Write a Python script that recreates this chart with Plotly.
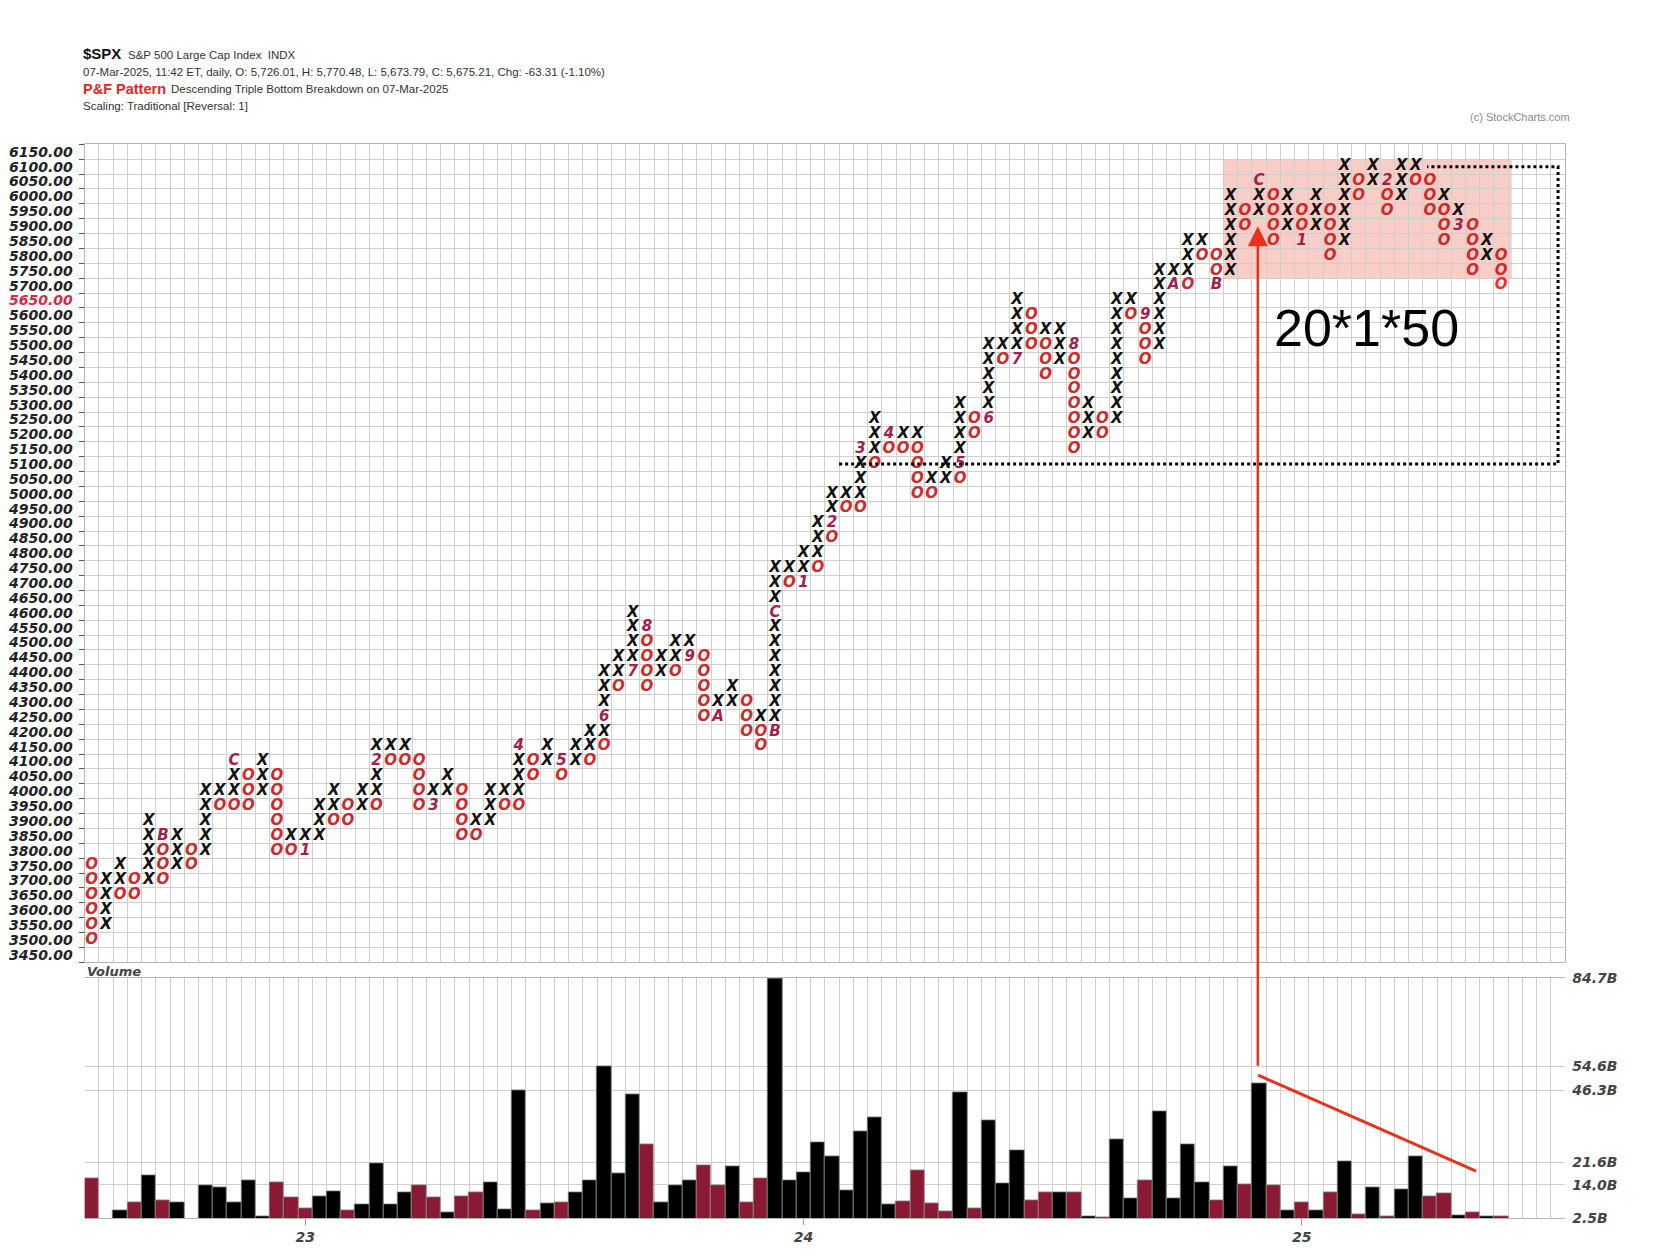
import plotly.graph_objects as go

# page size of the reference
W, H = 1680, 1258

# point & figure columns: bottom price and boxes from the bottom up
# (X = rising box, O = falling box, 1-9/A/B/C = first box of a month)
box_size = 50
col_bottom = [3500, 3550, 3650, 3650, 3700, 3700, 3750, 3750, 3800, 3950,
              3950, 3950, 4000, 3800, 3800, 3800, 3850, 3900, 3900, 3950,
              3950, 4100, 4100, 3950, 3950, 4000, 3850, 3850, 3900, 3950,
              3950, 4050, 4100, 4050, 4100, 4100, 4150, 4350, 4400, 4350,
              4400, 4400, 4450, 4250, 4250, 4300, 4200, 4150, 4200, 4700,
              4700, 4750, 4850, 4950, 4950, 5100, 5150, 5150, 5000, 5000,
              5050, 5050, 5200, 5250, 5450, 5450, 5500, 5400, 5450, 5150,
              5200, 5200, 5250, 5600, 5450, 5500, 5700, 5700, 5800, 5700,
              5750, 5900, 5950, 5850, 5900, 5850, 5900, 5800, 5850, 6000,
              6050, 5950, 6000, 6050, 5950, 5850, 5900, 5750, 5800, 5700]
col_boxes = ["OOOOOO", "XXXX", "OXX", "OO", "XXXXX", "OOOB", "XXX", "OO", "XXXXX", "OX",
             "OXXC", "OOO", "XXX", "OOOOOO", "OX", "1X", "XXX", "OXX", "OO", "XX",
             "OXX2X", "OX", "OX", "OOOO", "3X", "XX", "OOOO", "OX", "XXX", "OX",
             "OXXX4", "OO", "XX", "O5", "XX", "OXX", "OX6XXX", "OXX", "7XXXX", "OOOO8",
             "XX", "OXX", "9X", "OOOOO", "AX", "XX", "OOO", "OOX", "BXXXXXXXCXXX", "OX",
             "1XX", "OXXX", "O2XX", "OX", "OXXX3", "OXXX", "O4", "OX", "OOOOX", "OX",
             "XX", "O5XXXX", "OO", "6XXXXX", "OX", "7XXXX", "OOO", "OOOX", "XXX", "OOOOOOO8",
             "XXX", "OO", "XXXXXXXXX", "OX", "OOO9", "XXXXXX", "AX", "OXXX", "OX", "BOO",
             "XXXXXX", "OO", "XXC", "OOOO", "XXX", "1OO", "XXX", "OOOO", "XXXXXX", "OO",
             "XX", "OO2", "XXX", "OX", "OOO", "OOOX", "3X", "OOOO", "XX", "OOO"]

# volume per column (billions) and bar colour (k = black, r = red)
volume = [16.1, 0.0, 5.2, 8.1, 17.2, 8.5, 8.1, 0.0, 13.9, 13.2,
          8.1, 15.6, 3.3, 14.9, 9.6, 5.8, 9.9, 11.7, 5.2, 7.2,
          21.5, 7.2, 11.3, 13.9, 9.6, 4.4, 10.2, 11.4, 14.9, 5.5,
          46.2, 5.2, 7.6, 8.1, 11.4, 15.6, 54.5, 17.9, 45.1, 27.8,
          8.1, 13.9, 15.6, 20.8, 13.9, 20.4, 8.1, 16.1, 84.7, 15.4,
          18.2, 28.4, 23.6, 12.1, 32.3, 37.1, 7.2, 8.4, 18.9, 7.6,
          4.8, 45.8, 6.1, 36.0, 14.6, 25.7, 8.8, 11.4, 11.4, 11.4,
          3.3, 3.0, 29.4, 9.4, 15.6, 39.2, 9.4, 27.7, 15.0, 8.8,
          20.4, 14.2, 48.7, 13.8, 5.2, 8.1, 5.2, 11.4, 21.9, 4.0,
          13.1, 3.3, 12.3, 23.6, 10.2, 10.9, 3.6, 4.4, 3.3, 3.3]
vol_colors = ("rkkrkrkkkk" "kkkrrrkkrk" "kkkrrkrrkk" "krkrkkkkkr" "kkkrrkrrkk"
              "kkkkkkkrrr" "rkrkkkrrkr" "krkkrkkkkr" "krkrkrkrkr" "krkkrrkrkr")

# axis labels
price_rows = list(range(3450, 6151, 50))
last_price = "5675.21"
year_cols = [16, 51, 86]
year_labels = ["23", "24", "25"]
vol_ticks = [2.5, 14.0, 21.6, 46.3, 54.6, 84.7]

# colours
x_color = "#111111"
o_color = "#cc2b2b"
month_color = "#a3204c"
vol_dark = "#000000"
vol_red = "#8a1a34"
grid_color = "#cfcfcf"
note_red = "#e8321e"


def px_x(p):
    return p / W


def px_y(p):
    return 1 - p / H


# split the boxes into X, O and month-code marks
xs, ys = [], []
os_x, os_y = [], []
mx, my, mt = [], [], []
for i, (bottom, boxes) in enumerate(zip(col_bottom, col_boxes), start=1):
    for j, ch in enumerate(boxes):
        price = bottom + j * box_size
        if ch == "X":
            xs.append(i)
            ys.append(price)
        elif ch == "O":
            if i == len(col_bottom) and j == 0:
                continue  # current box gets its own colour below
            os_x.append(i)
            os_y.append(price)
        else:
            mx.append(i)
            my.append(price)
            mt.append(ch)
# current box = lowest O of the last column
cur_x = [len(col_bottom)]
cur_y = [col_bottom[-1]]

box_font = dict(family="DejaVu Sans", size=15, weight="bold", style="italic")

fig = go.Figure()
fig.add_trace(go.Scatter(x=xs, y=ys, mode="text", text=["X"] * len(xs),
                         textfont=dict(box_font, color=x_color), hoverinfo="skip"))
fig.add_trace(go.Scatter(x=os_x, y=os_y, mode="text", text=["O"] * len(os_x),
                         textfont=dict(box_font, color=o_color), hoverinfo="skip"))
fig.add_trace(go.Scatter(x=cur_x, y=cur_y, mode="text", text=["O"],
                         textfont=dict(box_font, color="#ff2a2a"), hoverinfo="skip"))
fig.add_trace(go.Scatter(x=mx, y=my, mode="text", text=mt,
                         textfont=dict(box_font, color=month_color), hoverinfo="skip"))

# volume bars
cols = list(range(1, len(volume) + 1))
fig.add_trace(go.Bar(x=cols, y=volume, width=1, xaxis="x2", yaxis="y3",
                     marker=dict(color=[vol_dark if c == "k" else vol_red for c in vol_colors],
                                 line=dict(color="#8a8a8a", width=0.8)),
                     hoverinfo="skip"))

n_cols_axis = 104
x_range = [0.5, n_cols_axis + 0.5]
x_bounds = [k + 0.5 for k in range(0, n_cols_axis + 1)]
y_bounds = [p - 25 for p in price_rows] + [price_rows[-1] + 25]

x_dom = [px_x(68), px_x(1556.5)]
pf_dom = [px_y(958.5), px_y(130)]
vol_dom = [px_y(1217.8), px_y(974.7)]

left_text = []
right_text = []
for p in price_rows:
    if p == 5650:
        left_text.append('<span style="color:#d4284c">%.2f</span>' % p)
        right_text.append('<span style="color:#d4284c">&lt;&lt;%s</span>' % last_price)
    else:
        left_text.append("%.2f" % p)
        right_text.append("%.2f" % p)

tick_font = dict(family="DejaVu Sans", size=14, weight="bold", style="italic", color="#222222")
vol_font = dict(family="DejaVu Sans", size=14, weight="bold", style="italic", color="#444444")
head_font = "Liberation Sans Narrow, Liberation Sans, Arial"

fig.update_layout(
    width=W, height=H, autosize=False,
    margin=dict(l=0, r=0, t=0, b=0),
    paper_bgcolor="white", plot_bgcolor="white",
    showlegend=False,
    bargap=0,
    xaxis=dict(domain=x_dom, range=x_range, anchor="y", tickmode="array", tickvals=x_bounds,
               showticklabels=False, ticks="", showgrid=True, gridcolor=grid_color, gridwidth=1,
               zeroline=False, showline=True, linecolor="#b5b5b5", mirror=True),
    yaxis=dict(domain=pf_dom, range=[3425, 6175], anchor="x", tickmode="array",
               tickvals=price_rows, ticktext=left_text, tickfont=tick_font, ticks="",
               showgrid=False, zeroline=False, showline=True, linecolor="#b5b5b5", mirror=True,
               ticklabelstandoff=8,
               minor=dict(tickmode="array", tickvals=y_bounds, showgrid=True, gridcolor=grid_color,
                          gridwidth=1, ticks="outside", ticklen=5, tickcolor="#555555")),
    yaxis2=dict(overlaying="y", side="right", anchor="x", range=[3425, 6175], tickmode="array",
                tickvals=price_rows, ticktext=right_text, tickfont=tick_font, ticks="",
                showgrid=False, zeroline=False, ticklabelstandoff=2),
    xaxis2=dict(domain=x_dom, range=x_range, anchor="y3", tickmode="array", tickvals=year_cols,
                ticktext=year_labels, tickfont=vol_font, ticks="outside", ticklen=6,
                tickcolor="#999999", showgrid=False, zeroline=False, showline=True,
                linecolor="#b5b5b5", mirror=True,
                minor=dict(tickmode="array", tickvals=x_bounds, showgrid=True, gridcolor=grid_color,
                           gridwidth=1, ticks="")),
    yaxis3=dict(domain=vol_dom, range=[2.5, 84.7], anchor="x2", side="right", tickmode="array",
                tickvals=vol_ticks, ticktext=["%.1fB" % v for v in vol_ticks], tickfont=vol_font,
                ticks="", showgrid=True, gridcolor=grid_color, gridwidth=1, zeroline=False,
                ticklabelstandoff=6),
)

# shaded congestion box and dotted breakdown outline
fig.add_shape(type="rect", xref="x", yref="y", x0=80.5, x1=100.75, y0=5725, y1=6125,
              fillcolor="rgba(236,120,100,0.36)", line=dict(width=0), layer="below")
fig.add_shape(type="path", xref="x", yref="y",
              path="M 53.5,5100 L 104,5100 L 104,6100 L 94.8,6100",
              line=dict(color="black", width=3, dash="dot"))
# falling volume trend line
fig.add_shape(type="line", xref="x2", yref="y3", x0=82.93, y0=51.5, x1=98.24, y1=18.7,
              line=dict(color=note_red, width=3))

annotations = [
    dict(x=px_x(64.5), y=px_y(38), text="<b>$SPX</b>", font=dict(family=head_font, size=15, color="#111")),
    dict(x=px_x(110), y=px_y(39), text="S&P 500 Large Cap Index  INDX",
         font=dict(family=head_font, size=11.5, color="#333")),
    dict(x=px_x(64.5), y=px_y(56.5),
         text="07-Mar-2025, 11:42 ET, daily, O: 5,726.01, H: 5,770.48, L: 5,673.79, C: 5,675.21, Chg: -63.31 (-1.10%)",
         font=dict(family=head_font, size=11.5, color="#333")),
    dict(x=px_x(64.5), y=px_y(73.5), text="<b>P&F Pattern</b>", font=dict(family=head_font, size=14.5, color="#e3261f")),
    dict(x=px_x(152.5), y=px_y(74), text="Descending Triple Bottom Breakdown on 07-Mar-2025",
         font=dict(family=head_font, size=11.5, color="#333")),
    dict(x=px_x(64.5), y=px_y(91), text="Scaling: Traditional [Reversal: 1]",
         font=dict(family=head_font, size=11.5, color="#333")),
    dict(x=px_x(1563.5), y=px_y(102), text="(c) StockCharts.com", xanchor="right",
         font=dict(family=head_font, size=11, color="#8a8a8a")),
    dict(x=px_x(68), y=px_y(968), text="Volume",
         font=dict(family="DejaVu Sans", size=13, weight="bold", style="italic", color="#444")),
    dict(x=px_x(1356.5), y=px_y(316.5), text="20*1*50", xanchor="center",
         font=dict(family="Liberation Sans", size=52, color="black")),
]
for a in annotations:
    a.setdefault("xanchor", "left")
    a.update(xref="paper", yref="paper", yanchor="middle", showarrow=False)
    fig.add_annotation(**a)

# red arrow from the volume spike up to the top of the box
fig.add_annotation(x=px_x(1247.5), y=px_y(213), xref="paper", yref="paper", text="",
                   showarrow=True, ax=0, ay=841, axref="pixel", ayref="pixel",
                   arrowhead=2, arrowsize=1.6, arrowwidth=2.5, arrowcolor=note_red, standoff=0)

fig.write_html("out.html")
